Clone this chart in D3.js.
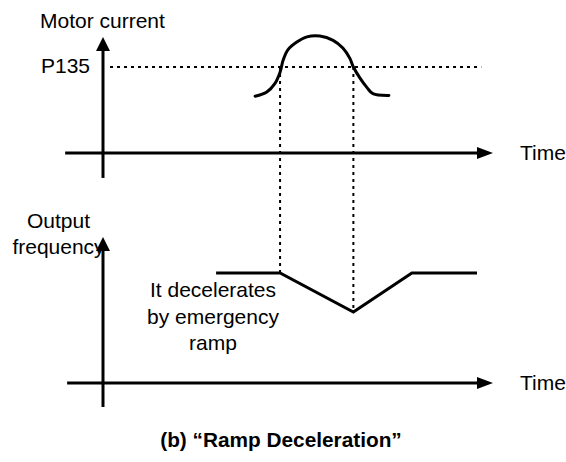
<!DOCTYPE html>
<html>
<head>
<meta charset="utf-8">
<script src="https://cdn.jsdelivr.net/npm/d3@7"></script>
<style>
  body { margin: 0; background: #fff; }
  text { font-family: "Liberation Sans", Arial, sans-serif; fill: #000; }
</style>
</head>
<body>
<div id="chart"></div>
<script>
// ---- data (time in arbitrary units, values normalised : P135 = 1, nominal freq = 1) ----
const curveT = [3.90, 4.20, 4.41, 4.54, 4.62, 4.74, 4.97, 5.23, 5.56, 5.90, 6.15, 6.33, 6.42, 6.59, 6.77, 6.92, 7.33];
const curveI = [0.66, 0.71, 0.81, 0.94, 1.08, 1.20, 1.29, 1.35, 1.36, 1.31, 1.22, 1.10, 1.00, 0.87, 0.76, 0.69, 0.67];
const p135 = 1.0;
const crossT = [4.54, 6.42];           // where the current crosses P135
const freqT = [2.90, 4.54, 6.42, 7.92, 9.59];
const freqF = [1.0, 1.0, 0.645, 1.0, 1.0];
const noteLines = ["It decelerates", "by emergency", "ramp"];

var width = 566, height = 462;
var fs = "21px";

var svg = d3.select("#chart").append("svg")
    .attr("width", width)
    .attr("height", height);

svg.append("rect").attr("width", width).attr("height", height).attr("fill", "#fff");

// scales
var x = d3.scaleLinear().domain([0, 10]).range([103, 493]);
var yCur = d3.scaleLinear().domain([0, 1]).range([153, 67]);
var yFreq = d3.scaleLinear().domain([0, 1]).range([383, 273]);

// draws an axis with an arrow head
function hAxis(y, t0, t1) {
    svg.append("line")
        .attr("x1", x(t0)).attr("x2", x(t1) - 14)
        .attr("y1", y).attr("y2", y)
        .attr("stroke", "#000").attr("stroke-width", 3);
    var tip = x(t1);
    svg.append("path")
        .attr("d", "M" + tip + "," + y + "L" + (tip - 16) + "," + (y - 6) + "L" + (tip - 16) + "," + (y + 6) + "Z")
        .attr("fill", "#000");
}
function vAxis(xp, yBottom, yTip) {
    svg.append("line")
        .attr("x1", xp).attr("x2", xp)
        .attr("y1", yBottom).attr("y2", yTip + 12)
        .attr("stroke", "#000").attr("stroke-width", 3);
    svg.append("path")
        .attr("d", "M" + xp + "," + yTip + "L" + (xp - 7) + "," + (yTip + 14) + "L" + (xp + 7) + "," + (yTip + 14) + "Z")
        .attr("fill", "#000");
}

// ---------------- top : motor current ----------------
hAxis(yCur(0), -0.97, 10);
vAxis(x(0), yCur(-0.29), yCur(1.35));

// P135 dotted level
svg.append("line")
    .attr("x1", x(0.18)).attr("x2", x(9.7))
    .attr("y1", yCur(p135)).attr("y2", yCur(p135))
    .attr("stroke", "#000").attr("stroke-width", 2)
    .attr("stroke-dasharray", "3,4");

// vertical dotted markers, down to the frequency line
var freqAt = d3.scaleLinear().domain(freqT).range(freqF);
crossT.forEach(function (t) {
    svg.append("line")
        .attr("x1", x(t)).attr("x2", x(t))
        .attr("y1", yCur(p135)).attr("y2", yFreq(freqAt(t)))
        .attr("stroke", "#000").attr("stroke-width", 2)
        .attr("stroke-dasharray", "3,4");
});

var curLine = d3.line()
    .x(function (d, i) { return x(curveT[i]); })
    .y(function (d) { return yCur(d); })
    .curve(d3.curveCatmullRom);

svg.append("path")
    .attr("d", curLine(curveI))
    .attr("fill", "none").attr("stroke", "#000")
    .attr("stroke-width", 3).attr("stroke-linecap", "round").attr("stroke-linejoin", "round");

svg.append("text").attr("x", 40).attr("y", 27.5).style("font-size", fs).text("Motor current");
svg.append("text").attr("x", 90).attr("y", 73).attr("text-anchor", "end").style("font-size", fs).text("P135");
svg.append("text").attr("x", 520).attr("y", 160).style("font-size", fs).text("Time");

// ---------------- bottom : output frequency ----------------
hAxis(yFreq(0), -0.92, 10);
vAxis(x(0), yFreq(-0.218), yFreq(1.327));

var freqLine = d3.line()
    .x(function (d, i) { return x(freqT[i]); })
    .y(function (d) { return yFreq(d); });

svg.append("path")
    .attr("d", freqLine(freqF))
    .attr("fill", "none").attr("stroke", "#000")
    .attr("stroke-width", 3).attr("stroke-linejoin", "miter");

svg.append("text").attr("x", 58.5).attr("y", 228).attr("text-anchor", "middle").style("font-size", fs).text("Output");
svg.append("text").attr("x", 58.5).attr("y", 254).attr("text-anchor", "middle").style("font-size", fs).text("frequency");
svg.append("text").attr("x", 520).attr("y", 390).style("font-size", fs).text("Time");

svg.selectAll(".note")
    .data(noteLines)
    .enter().append("text")
    .attr("class", "note")
    .attr("x", 213)
    .attr("y", function (d, i) { return 297 + i * 26.6; })
    .attr("text-anchor", "middle")
    .style("font-size", fs)
    .text(function (d) { return d; });

// caption
svg.append("text")
    .attr("x", 281).attr("y", 447)
    .attr("text-anchor", "middle")
    .style("font-size", "20.8px").style("font-weight", "bold")
    .text("(b) \u201cRamp Deceleration\u201d");
</script>
</body>
</html>
